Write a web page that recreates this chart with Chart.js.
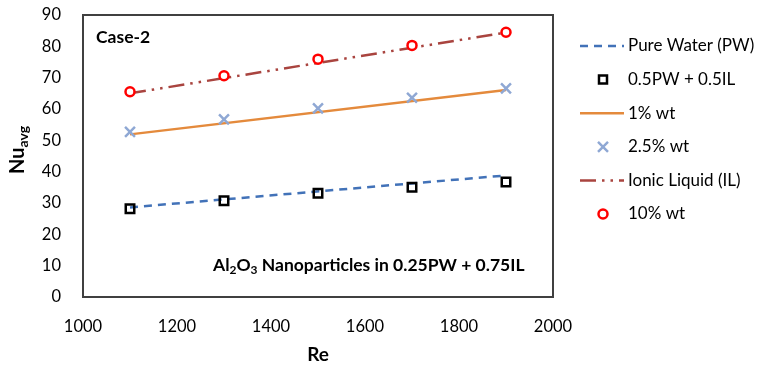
<!DOCTYPE html>
<html>
<head>
<meta charset="utf-8">
<script src="https://cdn.jsdelivr.net/npm/chart.js@4.4.1/dist/chart.umd.min.js"></script>
<style>
  body { margin: 0; background: #fff; }
  canvas { display: block; }
</style>
</head>
<body>
<canvas id="NuChart" width="760" height="365"></canvas>
<script>
// measured points
const reynolds = [1100, 1300, 1500, 1700, 1900];
const mixNu = [28.2, 30.7, 33.1, 35.0, 36.7];      // 0.5PW + 0.5IL
const wt25Nu = [52.7, 56.7, 60.2, 63.6, 66.6];     // 2.5% wt
const wt10Nu = [65.5, 70.6, 75.9, 80.3, 84.5];     // 10% wt
// straight trend lines (end points)
const lineRe = [1100, 1900];
const pureWaterNu = [28.6, 38.8];
const wt1Nu = [51.9, 66.1];
const ionicNu = [65.0, 84.4];
const seriesNames = ['Pure Water (PW)', '0.5PW + 0.5IL', '1% wt', '2.5% wt', 'Ionic Liquid (IL)', '10% wt'];

const FONT = 'Lato, "Open Sans", sans-serif';
const pts = (xs, ys) => xs.map((x, i) => ({ x: x, y: ys[i] }));

const lineSet = (name, ys, color, dash) => ({
    label: name, data: pts(lineRe, ys), showLine: true,
    borderColor: color, borderWidth: 2.5, borderDash: dash,
    pointRadius: 0, order: 2
});
const markSet = (name, ys, style, color, r, fill) => ({
    label: name, data: pts(reynolds, ys), showLine: false,
    pointStyle: style, pointRadius: r, pointHoverRadius: r,
    pointBorderColor: color, pointBackgroundColor: fill,
    pointBorderWidth: 2.5, order: 1
});

const datasets = [
    lineSet(seriesNames[0], pureWaterNu, '#4272B8', [8, 6]),
    markSet(seriesNames[1], mixNu, 'rect', '#000000', 6, 'rgba(0,0,0,0)'),
    lineSet(seriesNames[2], wt1Nu, '#E48A3C', []),
    markSet(seriesNames[3], wt25Nu, 'crossRot', '#8FA8D4', 7, 'rgba(0,0,0,0)'),
    lineSet(seriesNames[4], ionicNu, '#A9443F', [16, 6, 2.5, 6, 2.5, 6]),
    markSet(seriesNames[5], wt10Nu, 'circle', '#FF0000', 4.5, '#FFFFFF')
];

// plot box, legend and texts
const decor = {
    id: 'decor',
    afterDatasetsDraw(chart) {
        const ctx = chart.ctx, a = chart.chartArea;
        ctx.save();
        ctx.strokeStyle = '#404040';
        ctx.lineWidth = 2;
        ctx.strokeRect(a.left, a.top, a.right - a.left, a.bottom - a.top);

        ctx.fillStyle = '#000';
        ctx.textBaseline = 'middle';
        ctx.font = 'bold 17.5px ' + FONT;
        ctx.fillText('Case-2', 96, 37);

        // Al2O3 label with subscripts
        let x = 213, y = 265;
        const parts = [['Al', 0], ['2', 1], ['O', 0], ['3', 1], [' Nanoparticles in 0.25PW + 0.75IL', 0]];
        parts.forEach(p => {
            ctx.font = p[1] ? 'bold 12px ' + FONT : 'bold 17.5px ' + FONT;
            ctx.fillText(p[0], x, p[1] ? y + 5 : y);
            x += ctx.measureText(p[0]).width;
        });

        // axis titles
        ctx.font = 'bold 19px ' + FONT;
        ctx.textAlign = 'center';
        ctx.fillText('Re', (a.left + a.right) / 2, 355);
        ctx.save();
        ctx.translate(18, 150);
        ctx.rotate(-Math.PI / 2);
        ctx.textAlign = 'left';
        ctx.font = 'bold 20px ' + FONT;
        const w1 = ctx.measureText('Nu').width;
        ctx.font = 'bold 14px ' + FONT;
        const w2 = ctx.measureText('avg').width;
        const sx = -(w1 + w2) / 2;
        ctx.font = 'bold 20px ' + FONT;
        ctx.fillText('Nu', sx, 0);
        ctx.font = 'bold 14px ' + FONT;
        ctx.fillText('avg', sx + w1, 5);
        ctx.restore();

        // legend
        ctx.textAlign = 'left';
        ctx.font = '17px ' + FONT;
        chart.data.datasets.forEach((ds, i) => {
            const ly = 46 + i * 33.6;
            if (ds.showLine) {
                ctx.strokeStyle = ds.borderColor;
                ctx.lineWidth = 2.5;
                ctx.setLineDash(ds.borderDash);
                ctx.beginPath();
                ctx.moveTo(580, ly);
                ctx.lineTo(624, ly);
                ctx.stroke();
                ctx.setLineDash([]);
            } else {
                ctx.strokeStyle = ds.pointBorderColor;
                ctx.lineWidth = 2.5;
                ctx.beginPath();
                const cx = 603;
                if (ds.pointStyle === 'rect') {
                    ctx.rect(cx - 4, ly - 4, 8, 8);
                } else if (ds.pointStyle === 'circle') {
                    ctx.arc(cx, ly, 4.5, 0, Math.PI * 2);
                } else {
                    ctx.moveTo(cx - 5, ly - 5); ctx.lineTo(cx + 5, ly + 5);
                    ctx.moveTo(cx + 5, ly - 5); ctx.lineTo(cx - 5, ly + 5);
                }
                ctx.stroke();
            }
            ctx.fillStyle = '#000';
            ctx.fillText(ds.label, 628, ly);
        });
        ctx.restore();
    }
};

const ctxNu = document.getElementById('NuChart').getContext('2d');
new Chart(ctxNu, {
    type: 'scatter',
    data: { datasets: datasets },
    options: {
        responsive: false,
        animation: false,
        layout: { padding: { top: 15, right: 207, left: 0, bottom: 0 } },
        plugins: { legend: { display: false }, tooltip: { enabled: false } },
        scales: {
            x: {
                type: 'linear', min: 1000, max: 2000,
                ticks: { stepSize: 200, color: '#000', padding: 12, font: { family: FONT, size: 16.5 },
                         callback: v => String(v) },
                grid: { display: false },
                border: { display: false },
                afterFit: s => { s.height = 68; }
            },
            y: {
                min: 0, max: 90,
                ticks: { stepSize: 10, color: '#000', padding: 14, font: { family: FONT, size: 16.5 } },
                grid: { display: false },
                border: { display: false },
                afterFit: s => { s.width = 83; s.paddingTop = 0; s.paddingBottom = 0; }
            }
        }
    },
    plugins: [decor]
});
</script>
</body>
</html>
